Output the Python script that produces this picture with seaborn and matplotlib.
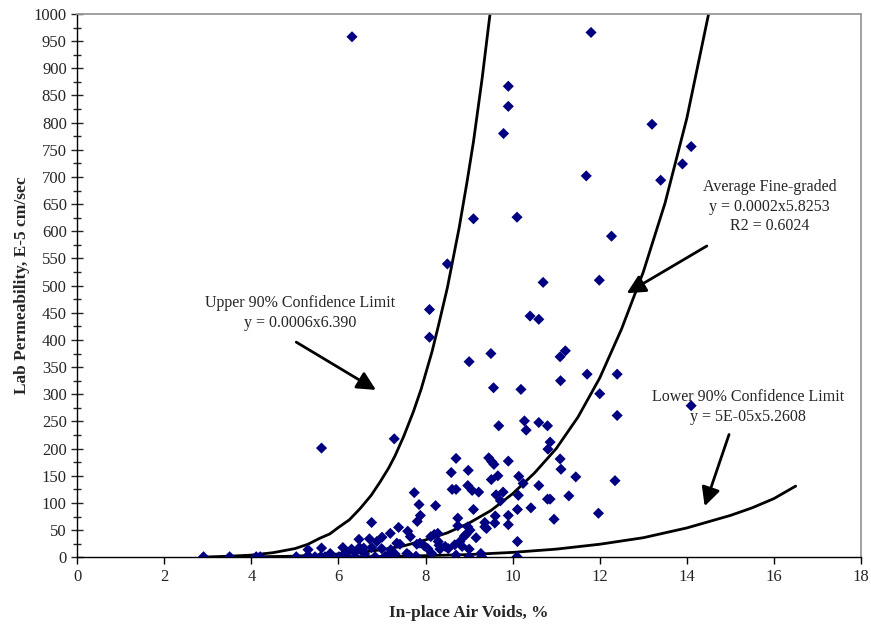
import matplotlib
matplotlib.use("Agg")
import matplotlib.pyplot as plt
import seaborn as sns
import pandas as pd

air_voids = [2.9, 3.5, 4.11, 4.2, 5.03, 5.27, 5.3, 5.33, 5.46, 5.59, 5.61, 5.61, 5.69, 5.77, 5.81,
             6.01, 6.1, 6.15, 6.2, 6.3, 6.39, 6.38, 6.47, 6.31, 6.48, 6.58, 6.76, 6.6, 6.84, 6.71,
             6.88, 6.76, 7.0, 6.99, 7.2, 7.18, 7.07, 7.3, 7.19, 7.38, 7.28, 7.34, 7.41, 7.59, 7.65,
             7.57, 7.62, 7.78, 7.74, 7.85, 7.88, 7.81, 7.87, 7.8, 7.97, 8.05, 8.14, 8.09, 8.09, 8.23,
             8.2, 8.28, 8.12, 8.29, 8.33, 8.31, 8.45, 8.52, 8.5, 8.59, 8.61, 8.7, 8.7, 8.74, 8.74,
             8.67, 8.79, 8.84, 8.7, 8.89, 8.93, 8.97, 9.02, 8.97, 8.98, 9.0, 9.07, 9.1, 9.0, 9.0,
             9.1, 9.16, 9.22, 9.27, 9.29, 9.36, 9.4, 9.36, 9.45, 9.52, 9.57, 9.51, 9.5, 9.56, 9.62,
             9.66, 9.78, 9.72, 9.6, 9.59, 9.68, 9.79, 9.9, 9.9, 9.9, 9.9, 9.9, 10.1, 10.11, 10.1,
             10.14, 10.13, 10.11, 10.24, 10.19, 10.27, 10.31, 10.42, 10.4, 10.6, 10.7, 10.6, 10.6,
             10.8, 10.86, 10.81, 10.8, 10.86, 10.95, 11.09, 11.11, 11.1, 11.09, 11.21, 11.29, 11.45,
             11.69, 11.71, 11.8, 11.97, 11.99, 12.0, 12.27, 12.35, 12.4, 12.4, 13.2, 13.4, 13.9,
             14.1, 14.1]
permeability = [1, 1, 1, 1, 1, 1, 14, 1, 1, 1, 17, 201, 1, 1, 7,
                1, 18, 8, 1, 15, 10, 1, 33, 958, 18, 17, 18, 6, 1, 34,
                29, 64, 37, 16, 14, 7, 2, 6, 44, 55, 218, 26, 24, 48, 38,
                7, 4, 2, 119, 97, 77, 66, 26, 24, 21, 16, 7, 456, 405, 95,
                42, 44, 38, 29, 15, 22, 20, 16, 540, 156, 125, 125, 182, 72, 58,
                23, 29, 20, 4, 39, 42, 56, 50, 132, 160, 360, 123, 88, 15, 1,
                623, 36, 120, 7, 1, 56, 53, 64, 183, 176, 171, 143, 375, 312, 115,
                150, 120, 104, 76, 63, 242, 780, 867, 830, 177, 77, 60, 626, 29, 1,
                149, 114, 88, 136, 309, 251, 234, 91, 444, 438, 506, 248, 132,
                242, 212, 199, 107, 107, 70, 181, 162, 325, 369, 380, 113, 148,
                702, 337, 966, 81, 510, 301, 591, 141, 337, 261, 797, 694, 724,
                756, 279]

# trend lines, points
upper_x = [2.9, 3.5, 4.0, 4.5, 5.0, 5.3, 5.57, 5.8, 6.0, 6.25, 6.5, 6.75, 6.95, 7.15, 7.3,
           7.5, 7.72, 7.9, 8.15, 8.3, 8.5, 8.77, 8.95, 9.1, 9.3, 9.48]
upper_y = [0, 2, 4, 8.5, 16, 24, 35, 43, 55, 69, 90, 114, 138, 164, 187,
           223, 268, 310, 379, 428, 496, 606, 690, 765, 882, 1000]
avg_x = [2.9, 4.0, 5.0, 6.0, 6.5, 7.0, 7.5, 8.0, 8.5, 9.0, 9.5, 10.0, 10.5, 11.0, 11.5,
         12.0, 12.5, 13.0, 13.5, 14.0, 14.5]
avg_y = [0, 0.6, 2, 6, 9, 14, 21, 32, 45, 63, 86, 117, 155, 200, 258,
         330, 420, 525, 652, 808, 1000]
lower_x = [2.9, 5.0, 6.0, 7.0, 8.0, 9.0, 10.0, 11.0, 12.0, 13.0, 14.0, 15.0, 15.5, 16.0, 16.5]
lower_y = [0, 0.3, 0.6, 1.4, 3, 5, 9, 15, 24, 36, 54, 77, 91, 108, 131]

df = pd.DataFrame({"voids": air_voids, "perm": permeability})

sns.set_style("ticks")
plt.rcParams["font.family"] = ["Liberation Serif", "DejaVu Serif"]

fig = plt.figure(figsize=(8.71, 6.27), dpi=100)
ax = fig.add_axes([0.0887, 0.1112, 0.8998, 0.8665])

sns.scatterplot(data=df, x="voids", y="perm", marker="D", s=32, color="#000080",
                edgecolor="none", ax=ax, zorder=3)

for xs, ys in [(upper_x, upper_y), (avg_x, avg_y), (lower_x, lower_y)]:
    sns.lineplot(x=xs, y=ys, sort=False, estimator=None, color="black", lw=2, ax=ax, zorder=2)

ax.set_xlim(0, 18)
ax.set_ylim(0, 1000)
ax.set_xticks(range(0, 19, 2))
ax.set_yticks(range(0, 1001, 50))
ax.set_yticks(range(25, 1000, 50), minor=True)
ax.tick_params(axis="x", direction="out", length=5, width=1, labelsize=12, color="black")
ax.tick_params(axis="y", which="major", direction="inout", length=8, width=1, labelsize=12)
ax.tick_params(axis="y", which="minor", direction="inout", length=6, width=1)

for side in ["left", "bottom"]:
    ax.spines[side].set_color("black")
    ax.spines[side].set_linewidth(1)
for side in ["top", "right"]:
    ax.spines[side].set_visible(True)
    ax.spines[side].set_color("#999999")
    ax.spines[side].set_linewidth(1.3)

ax.set_xlabel("In-place Air Voids, %", fontsize=12.5, fontweight="bold", labelpad=14)
ax.set_ylabel("Lab Permeability, E-5 cm/sec", fontsize=12.5, fontweight="bold", labelpad=3)

txt = dict(fontsize=11.5, ha="center", va="center", multialignment="center", linespacing=1.3)
ax.text(5.11, 450, "Upper 90% Confidence Limit\ny = 0.0006x6.390", **txt)
ax.text(15.9, 645, "Average Fine-graded\ny = 0.0002x5.8253\nR2 = 0.6024", **txt)
ax.text(15.4, 277, "Lower 90% Confidence Limit\ny = 5E-05x5.2608", **txt)

arrow = dict(arrowstyle="-|>", lw=2, color="black", mutation_scale=28, shrinkA=0, shrinkB=0)
ax.annotate("", xy=(6.86, 308), xytext=(5.03, 396), arrowprops=arrow)
ax.annotate("", xy=(12.62, 486), xytext=(14.46, 573), arrowprops=arrow)
ax.annotate("", xy=(14.41, 94), xytext=(14.97, 226), arrowprops=arrow)

fig.savefig("out.png", dpi=100)
